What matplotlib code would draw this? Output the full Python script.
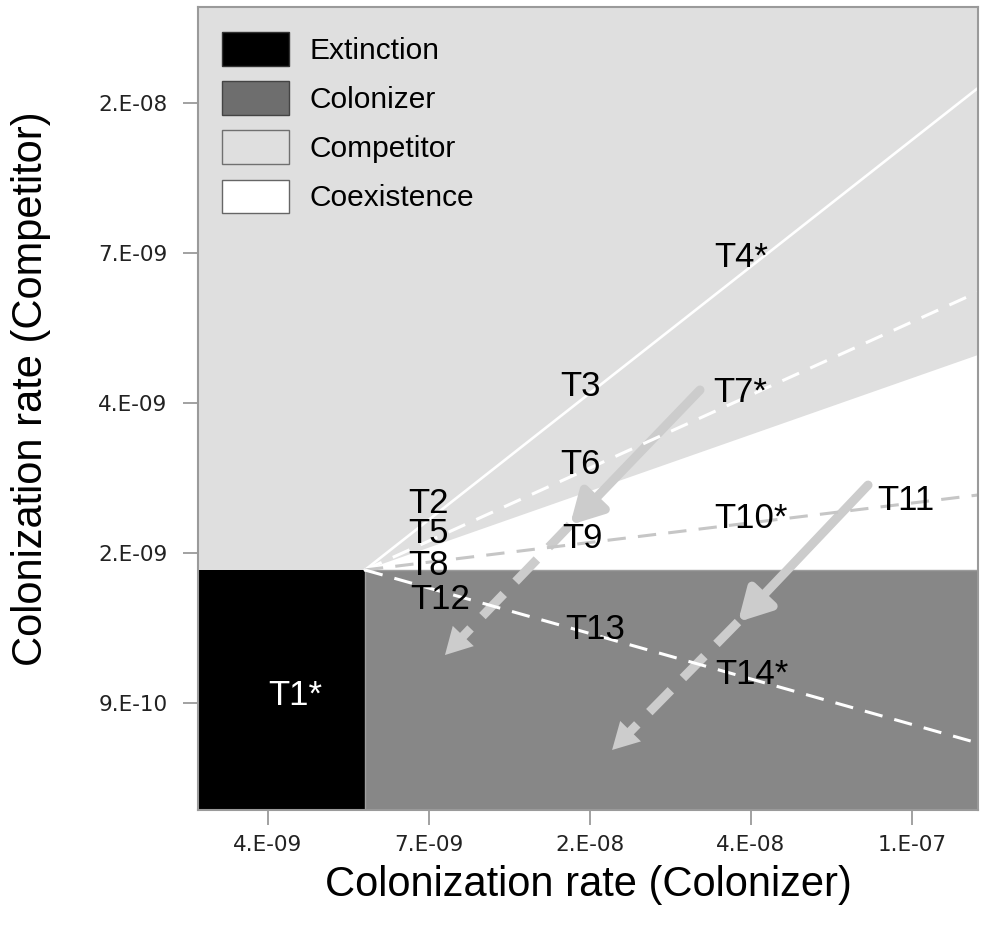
import matplotlib
matplotlib.use("Agg")
import matplotlib.pyplot as plt
from matplotlib.patches import Patch, Rectangle, Polygon

# ---------------- data (axis units: evenly spaced log-scale tick index) ----------------
x_tick_pos = [0, 1, 2, 3, 4]
x_tick_labels = ["4.E-09", "7.E-09", "2.E-08", "4.E-08", "1.E-07"]
y_tick_pos = [0, 1, 2, 3, 4]
y_tick_labels = ["9.E-10", "2.E-09", "4.E-09", "7.E-09", "2.E-08"]
x_range = [-0.435, 4.41]
y_range = [-0.713, 4.64]

# threshold point (colonizer / competitor extinction thresholds)
threshold = [0.602, 0.887]
# upper edge of coexistence region at right border
coexist_right_y = 2.32

# trade-off lines, value at right border
line_names = ["T2-T4", "T5-T7", "T8-T10", "T12-T14"]
line_right_y = [4.10, 2.74, 1.387, -0.267]

# treatment arrows: start, mid, end
arrow_start = [[2.683, 2.087], [3.727, 1.453]]
arrow_mid = [[1.876, 1.187], [2.919, 0.540]]
arrow_end = [[1.099, 0.320], [2.137, -0.313]]

# treatment labels
label_text = ["T1*", "T2", "T5", "T8", "T12", "T3", "T6", "T9", "T13",
              "T4*", "T7*", "T10*", "T11", "T14*"]
label_x = [0.168, 0.994, 0.994, 0.994, 1.068, 1.938, 1.938, 1.95, 2.031,
           2.938, 2.932, 3.0, 3.963, 3.006]
label_y = [0.047, 1.333, 1.127, 0.92, 0.693, 2.113, 1.587, 1.10, 0.487,
           2.967, 2.073, 1.227, 1.347, 0.193]

legend_labels = ["Extinction", "Colonizer", "Competitor", "Coexistence"]

# ---------------- style ----------------
C_COMP = "#dfdfdf"
C_COL = "#878787"
C_EXT = "#000000"
C_COEX = "#ffffff"
C_ARROW = "#cccccc"
C_GDASH = "#c6c6c6"
C_FRAME = "#9a9a9a"

plt.rcParams["font.family"] = ["Liberation Sans", "DejaVu Sans"]

fig = plt.figure(figsize=(9.81, 9.42), dpi=100)
ax = fig.add_axes([198 / 981, 1 - 810 / 942, (978 - 198) / 981, (810 - 7) / 942])
ax.set_xlim(*x_range)
ax.set_ylim(*y_range)
ax.set_facecolor(C_COMP)

x0, x1 = x_range
y0, y1 = y_range
tx, ty = threshold

# regions
ax.add_patch(Rectangle((x0, y0), tx - x0, ty - y0, facecolor=C_EXT, edgecolor="none", zorder=1))
ax.add_patch(Rectangle((tx, y0), x1 - tx, ty - y0, facecolor=C_COL, edgecolor="none", zorder=1))
ax.add_patch(Polygon([[tx, ty], [x1, ty], [x1, coexist_right_y]], closed=True,
                     facecolor=C_COEX, edgecolor="none", zorder=1))
ax.plot([tx, x1], [ty, ty], color="#9c9c9c", lw=1.0, zorder=1.5)
ax.plot([tx, tx], [y0, ty], color="#a0a0a0", lw=1.0, zorder=1.5)

# arrows
for s, m, e in zip(arrow_start, arrow_mid, arrow_end):
    ax.annotate("", xy=m, xytext=s,
                arrowprops=dict(arrowstyle="-|>,head_length=1.9,head_width=1.05",
                                mutation_scale=10, lw=6.5, color=C_ARROW,
                                shrinkA=0, shrinkB=0), zorder=2)
    ax.plot([m[0], e[0] + 0.12 * (m[0] - e[0])], [m[1], e[1] + 0.12 * (m[1] - e[1])],
            color=C_ARROW, lw=6.5, dashes=(3.4, 1.9), solid_capstyle="butt",
            dash_capstyle="butt", zorder=2)
    hs = [e[0] + 0.2 * (m[0] - e[0]), e[1] + 0.2 * (m[1] - e[1])]
    ax.annotate("", xy=e, xytext=hs,
                arrowprops=dict(arrowstyle="-|>,head_length=1.9,head_width=1.05",
                                mutation_scale=10, lw=0.01, color=C_ARROW,
                                shrinkA=0, shrinkB=0), zorder=2)

# trade-off lines
styles = [dict(color="white", lw=1.9, linestyle="-"),
          dict(color="white", lw=2.2, dashes=(6, 4)),
          dict(color=C_GDASH, lw=2.2, dashes=(6, 4)),
          dict(color="white", lw=2.2, dashes=(6, 4))]
for yr, st in zip(line_right_y, styles):
    ax.plot([tx, x1], [ty, yr], zorder=3, **st)

# labels
for t, x, y in zip(label_text, label_x, label_y):
    ax.text(x, y, t, ha="center", va="center", fontsize=25,
            color="white" if t == "T1*" else "black", zorder=4)

# axes styling
ax.set_xticks(x_tick_pos)
ax.set_xticklabels(x_tick_labels, fontfamily="DejaVu Sans", fontsize=15.5)
ax.set_yticks(y_tick_pos)
ax.set_yticklabels(y_tick_labels, fontfamily="DejaVu Sans", fontsize=15.5)
ax.tick_params(axis="both", direction="out", length=11, width=1.3, color=C_FRAME,
               labelcolor="#222222")
ax.tick_params(axis="x", pad=7)
ax.tick_params(axis="y", pad=11)
for sp in ax.spines.values():
    sp.set_color(C_FRAME)
    sp.set_linewidth(1.5)
    sp.set_zorder(5)

ax.set_xlabel("Colonization rate (Colonizer)", fontsize=30)
ax.set_ylabel("Colonization rate (Competitor)", fontsize=30)
ax.xaxis.set_label_coords(0.5, -0.069, transform=ax.transAxes)
ax.yaxis.set_label_coords(-0.188, 0.525, transform=ax.transAxes)

handles = [Patch(facecolor=C_EXT, edgecolor="#333333"),
           Patch(facecolor="#6e6e6e", edgecolor="#444444"),
           Patch(facecolor=C_COMP, edgecolor="#707070"),
           Patch(facecolor=C_COEX, edgecolor="#666666")]
ax.legend(handles, legend_labels, loc="upper left", frameon=False, fontsize=21.5,
          handlelength=2.27, handleheight=1.36, handletextpad=0.67, labelspacing=0.52,
          borderaxespad=0.0, bbox_to_anchor=(0.015, 0.984))

fig.savefig("out.png", dpi=100)
